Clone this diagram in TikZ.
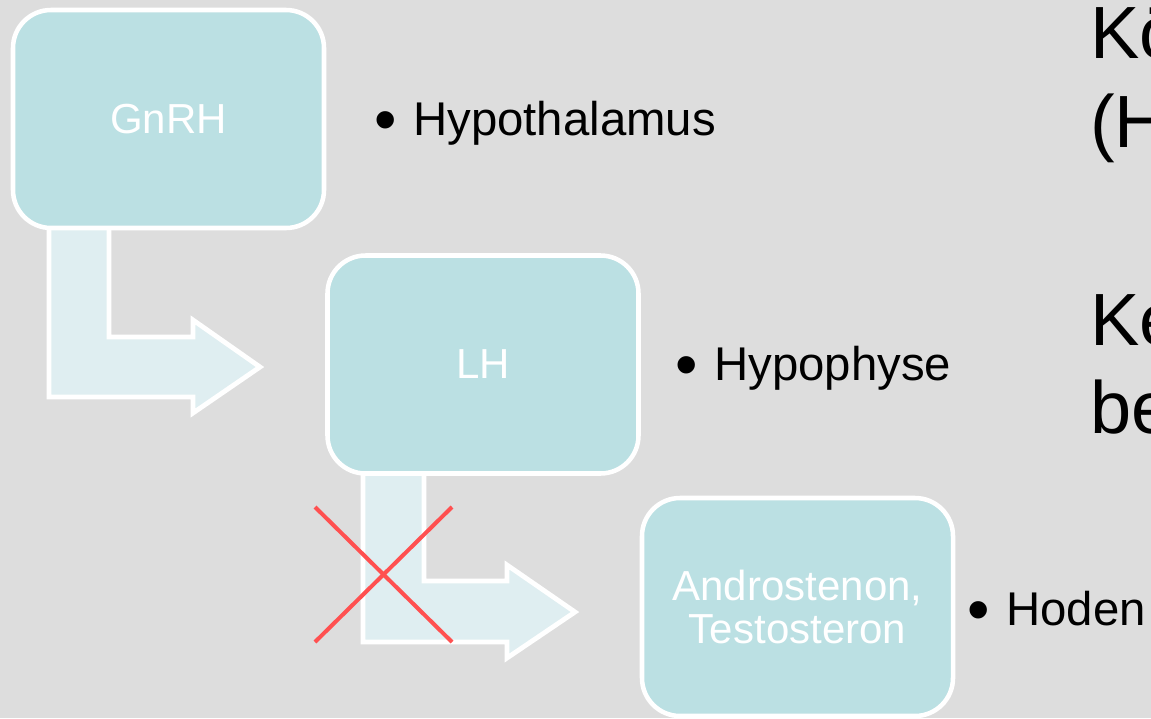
\documentclass[tikz,border=0pt]{standalone}
\usepackage{fontspec}
\setmainfont{Liberation Sans}
\definecolor{bg}{HTML}{DDDDDD}
\definecolor{boxfill}{HTML}{BBE0E3}
\definecolor{arrowfill}{HTML}{DFEEF1}
\definecolor{crossred}{HTML}{FF5050}
\tikzset{
  box/.style={draw=white, line width=3.4pt, fill=boxfill, rounded corners=28.5pt,
    minimum width=233.25pt, minimum height=163.5pt, inner sep=0pt, text=white,
    font=\fontsize{31.5}{32.25}\selectfont, align=center},
  blockarrow/.style={draw=white, line width=3.6pt, fill=arrowfill, line join=miter},
  cross/.style={draw=crossred, line width=3pt},
  bullettext/.style={anchor=base west, inner sep=0pt, font=\fontsize{35.5}{42}\selectfont},
  bulletdot/.style={anchor=base, inner sep=0pt, font=\fontsize{48}{58}\selectfont},
  bigtext/.style={anchor=base west, inner sep=0pt, font=\fontsize{55.5}{66}\selectfont}
}
\begin{document}
\begin{tikzpicture}[x=0.75pt,y=-0.75pt]
\useasboundingbox (0,0) rectangle (1151,718);
\clip (0,0) rectangle (1151,718);
\fill[bg] (0,0) rectangle (1151,718);

% block arrows
\coordinate (tip1) at (260,367);
\coordinate (tip2) at (575,612);
\draw[blockarrow] (49,225) -- (109,225) -- (109,337) -- (193,337) -- (193,320)
  -- (tip1) -- (193,413) -- (193,397) -- (49,397) -- cycle;
\draw[blockarrow] (363,470) -- (424,470) -- (424,581) -- (507,581) -- (507,565)
  -- (tip2) -- (507,658) -- (507,642) -- (363,642) -- cycle;

% boxes
\node[box] (gnrh) at (168.5,119) {GnRH};
\node[box] (lh) at (483,364.5) {LH};
\node[box] (andro) at (797.5,607) {Androstenon,\\Testosteron};

% red cross
\coordinate (x1) at (315,507);
\coordinate (x2) at (452,642);
\coordinate (x3) at (452,507);
\coordinate (x4) at (315,642);
\draw[cross] (x1) -- (x2);
\draw[cross] (x3) -- (x4);

% bullet labels
\node[bulletdot] (b1) at (386,141) {•};
\node[bullettext] (t1) at (413,135) {Hypothalamus};
\node[bulletdot] (b2) at (687,386) {•};
\node[bullettext] (t2) at (714,380) {Hypophyse};
\node[bulletdot] (b3) at (979,631) {•};
\node[bullettext] (t3) at (1006,625) {Hoden};

% cut-off text at right
\node[bigtext] (r1) at (1090,58) {Kö};
\node[bigtext] (r2) at (1090,147) {(H};
\node[bigtext] (r3) at (1090,345) {Ke};
\node[bigtext] (r4) at (1090,433) {be};
\end{tikzpicture}
\end{document}
